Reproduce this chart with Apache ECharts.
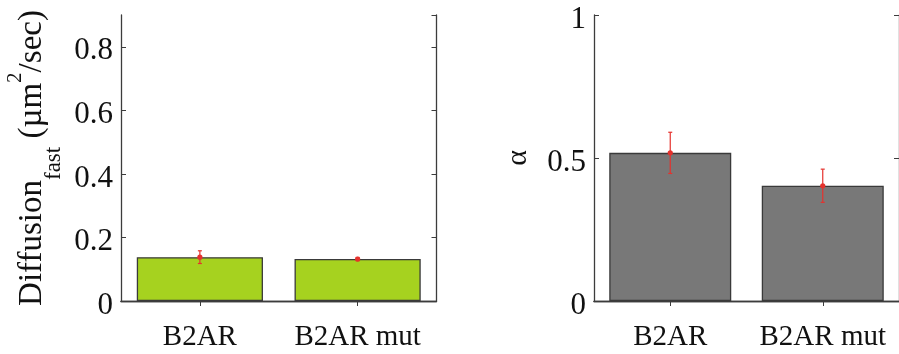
<!DOCTYPE html>
<html>
<head>
<meta charset="utf-8">
<script src="https://cdn.jsdelivr.net/npm/echarts@6/dist/echarts.min.js"></script>
<style>
  html, body { margin: 0; padding: 0; background: #fff; }
  #chart { width: 899px; height: 354px; }
</style>
</head>
<body>
<div id="chart"></div>
<script>
// Receptor constructs on the x axis
const categories = ['B2AR', 'B2AR mut'];

// Fast diffusion coefficient (µm²/sec), mean and error
const diffusionMean = [0.138, 0.132];
const diffusionErr = [0.020, 0.005];

// Anomalous exponent alpha, mean and error
const alphaMean = [0.518, 0.403];
const alphaErr = [0.072, 0.058];

// Tick settings of the two value axes
const diffusionTicks = { min: 0, max: 0.9, interval: 0.2 };
const alphaTicks = { min: 0, max: 1, interval: 0.5 };

const SERIF = 'Liberation Serif';
const AXIS_COLOR = '#3c3c3c';
const TEXT_COLOR = '#111111';

function errorData(means, errs) {
  return means.map((m, i) => [i, m, m - errs[i], m + errs[i]]);
}

function renderError(params, api) {
  const x = api.value(0);
  const c = api.coord([x, api.value(1)]);
  const lo = api.coord([x, api.value(2)]);
  const hi = api.coord([x, api.value(3)]);
  const cap = 2;
  const style = { stroke: '#e5322d', lineWidth: 1.2 };
  return {
    type: 'group',
    children: [
      { type: 'line', shape: { x1: c[0], y1: lo[1], x2: c[0], y2: hi[1] }, style },
      { type: 'line', shape: { x1: c[0] - cap, y1: lo[1], x2: c[0] + cap, y2: lo[1] }, style },
      { type: 'line', shape: { x1: c[0] - cap, y1: hi[1], x2: c[0] + cap, y2: hi[1] }, style },
      { type: 'circle', shape: { cx: c[0], cy: c[1], r: 2.6 }, style: { fill: '#e5322d' } }
    ]
  };
}

function tokenLabel(v) { return '{t|' + v + '}'; }

function xAxes(gridIndex) {
  const line = { show: true, lineStyle: { color: AXIS_COLOR, width: 1.3 } };
  return [
    {
      type: 'category', gridIndex, data: categories, position: 'bottom',
      axisLine: line,
      axisTick: { show: true, inside: true, alignWithLabel: true, length: 5, lineStyle: { color: AXIS_COLOR } },
      axisLabel: {
        interval: 0, hideOverlap: false, margin: 22, formatter: tokenLabel,
        fontFamily: SERIF, fontSize: 29, color: TEXT_COLOR,
        rich: { t: { fontFamily: SERIF, fontSize: 29, color: TEXT_COLOR } }
      }
    },
    {
      type: 'category', gridIndex, data: categories, position: 'top',
      axisLine: line,
      axisTick: { show: true, inside: true, alignWithLabel: true, length: 5, lineStyle: { color: AXIS_COLOR } },
      axisLabel: { show: false }
    }
  ];
}

function yAxes(gridIndex, ticks, name, nameGap, rich) {
  const line = { show: true, lineStyle: { color: AXIS_COLOR, width: 1.3 } };
  return [
    {
      type: 'value', gridIndex, position: 'left',
      min: ticks.min, max: ticks.max, interval: ticks.interval,
      splitLine: { show: false },
      axisLine: line,
      axisTick: { show: true, inside: true, length: 5, lineStyle: { color: AXIS_COLOR } },
      axisLabel: {
        margin: 8, formatter: tokenLabel,
        fontFamily: SERIF, fontSize: 31, color: TEXT_COLOR,
        showMaxLabel: ticks.max === ticks.interval * Math.round(ticks.max / ticks.interval),
        rich: { t: { fontFamily: SERIF, fontSize: 31, color: TEXT_COLOR, padding: [9, 0, 0, 0] } }
      },
      name, nameLocation: 'middle', nameGap, nameRotate: 90,
      nameTextStyle: { fontFamily: SERIF, fontSize: 33, color: TEXT_COLOR, rich }
    },
    {
      type: 'value', gridIndex, position: 'right',
      min: ticks.min, max: ticks.max, interval: ticks.interval,
      splitLine: { show: false },
      axisLine: line,
      axisTick: { show: true, inside: true, length: 5, lineStyle: { color: AXIS_COLOR } },
      axisLabel: { show: false }
    }
  ];
}

// Axis title with subscript "fast" and superscript "2"
const diffusionRich = {
  a: { fontFamily: SERIF, fontSize: 33, color: TEXT_COLOR, lineHeight: 66, verticalAlign: 'middle' },
  sub: { fontFamily: SERIF, fontSize: 23, color: TEXT_COLOR, verticalAlign: 'bottom' },
  sup: { fontFamily: SERIF, fontSize: 21, color: TEXT_COLOR, verticalAlign: 'top', padding: [6, 0, 0, 0] }
};
const alphaRich = {
  a: { fontFamily: SERIF, fontSize: 30, color: TEXT_COLOR, lineHeight: 30 }
};

const chart = echarts.init(document.getElementById('chart'), null, { renderer: 'canvas' });

chart.setOption({
  animation: false,
  backgroundColor: '#ffffff',
  textStyle: { fontFamily: SERIF },
  grid: [
    { left: 121, top: 15, width: 315.5, height: 286, containLabel: false },
    { left: 594, top: 15, width: 315, height: 286, containLabel: false }
  ],
  xAxis: [...xAxes(0), ...xAxes(1)],
  yAxis: [
    ...yAxes(0, diffusionTicks, '{a|Diffusion}{sub|fast}{a| (\u00b5m}{sup|2}{a|/sec)}', 56, diffusionRich),
    ...yAxes(1, alphaTicks, '{a|\u03b1}', 61, alphaRich)
  ],
  series: [
    {
      type: 'bar', xAxisIndex: 0, yAxisIndex: 0, data: diffusionMean, barWidth: '80%',
      itemStyle: { color: '#a6d21f', borderColor: '#3a3a3a', borderWidth: 1.3 }, z: 2
    },
    {
      type: 'custom', xAxisIndex: 0, yAxisIndex: 0,
      data: errorData(diffusionMean, diffusionErr),
      encode: { x: 0, y: [1, 2, 3] }, renderItem: renderError, z: 5
    },
    {
      type: 'bar', xAxisIndex: 2, yAxisIndex: 2, data: alphaMean, barWidth: '80%',
      itemStyle: { color: '#787878', borderColor: '#3a3a3a', borderWidth: 1.3 }, z: 2
    },
    {
      type: 'custom', xAxisIndex: 2, yAxisIndex: 2,
      data: errorData(alphaMean, alphaErr),
      encode: { x: 0, y: [1, 2, 3] }, renderItem: renderError, z: 5
    }
  ]
});
</script>
</body>
</html>
